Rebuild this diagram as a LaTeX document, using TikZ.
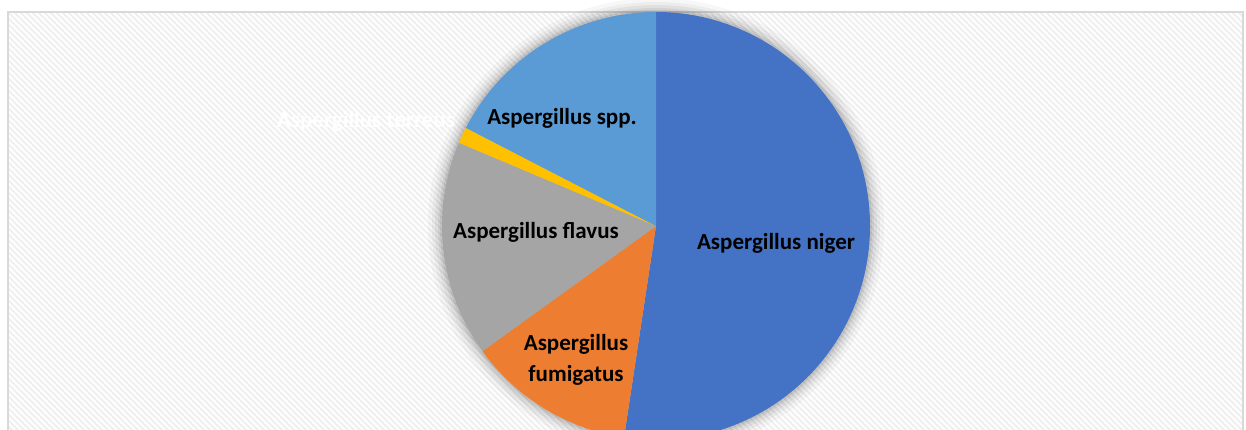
\documentclass[tikz,border=0pt]{standalone}
\usepackage{fontspec}
\setmainfont{Carlito}
\begin{document}
\begin{tikzpicture}[x=1pt,y=1pt,
  slicelabel/.style={font=\bfseries\fontsize{23}{31}\selectfont, text=black, inner sep=0pt, align=center},
  hatch/.style={draw=gray!12, line width=2pt}
]
\definecolor{cNiger}{HTML}{4472C4}
\definecolor{cFumi}{HTML}{ED7D31}
\definecolor{cFlav}{HTML}{A5A5A5}
\definecolor{cTerr}{HTML}{FFC000}
\definecolor{cSpp}{HTML}{5B9BD5}
\definecolor{frameGray}{HTML}{D9D9D9}
\useasboundingbox (0,0) rectangle (1246,430);
\clip (0,0) rectangle (1246,430);
\fill[white] (0,0) rectangle (1246,430);
% chart area with diagonal hatching
\begin{scope}
  \clip (8,-20) rectangle (1243,418);
  \foreach \k in {0,...,290} {
    \draw[hatch] ({\k*6-460},418) -- ++(460,-460);
  }
\end{scope}
\draw[frameGray, line width=1.5pt] (8,-20) rectangle (1243,418);
% pie
\coordinate (C) at (656,204);
\def\R{214pt}
% soft shadow around the pie
\foreach \r/\o in {228/0.03,224/0.04,221/0.05,218/0.06,216/0.07} {
  \fill[black, opacity=\o] (C) circle[radius=\r pt];
}
\fill[cNiger] (C) -- ++(90:\R) arc[start angle=90, end angle=-98.6, radius=\R] -- cycle;
\fill[cFumi] (C) -- ++(261.4:\R) arc[start angle=261.4, end angle=215.8, radius=\R] -- cycle;
\fill[cFlav] (C) -- ++(215.8:\R) arc[start angle=215.8, end angle=157.1, radius=\R] -- cycle;
\fill[cTerr] (C) -- ++(157.1:\R) arc[start angle=157.1, end angle=152.7, radius=\R] -- cycle;
\fill[cSpp] (C) -- ++(152.7:\R) arc[start angle=152.7, end angle=90, radius=\R] -- cycle;
% labels
\node[slicelabel] (niger) at (776,187) {Aspergillus niger};
\node[slicelabel] (spp) at (562,312) {Aspergillus spp.};
\node[slicelabel] (flavus) at (536,198) {Aspergillus flavus};
\node[slicelabel] (fumi) at (576,70) {Aspergillus\\fumigatus};
\node[slicelabel, text=white] (terreus) at (366,309) {Aspergillus terreus};
\end{tikzpicture}
\end{document}
